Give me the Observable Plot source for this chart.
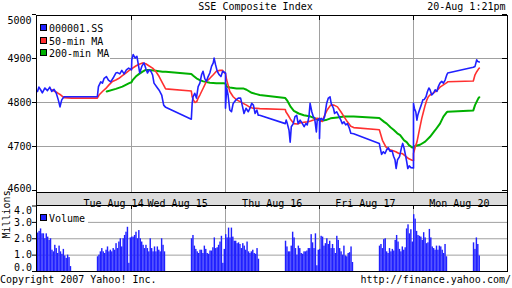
<!DOCTYPE html>
<html><head><meta charset="utf-8">
<script src="https://cdn.jsdelivr.net/npm/d3@7"></script>
<script src="https://cdn.jsdelivr.net/npm/@observablehq/plot@0.6"></script>
<style>
html,body{margin:0;padding:0;background:#fff;}
#wrap{position:relative;width:512px;height:288px;overflow:hidden;font-family:"DejaVu Sans Mono",monospace;font-size:10px;color:#000;}
.t{position:absolute;line-height:10px;white-space:pre;}
.abs{position:absolute;}
.sw{position:absolute;width:5px;height:5px;border:1px solid #000;}
</style></head><body><div id="wrap"></div>
<script>
// ---------- data ----------
const tradingDays = [14, 15, 16, 17, 20];
const dayLabels = ["Tue Aug 14", "Wed Aug 15", "Thu Aug 16", "Fri Aug 17", "Mon Aug 20"];
const dayLabelAt = ["14 13:57", "15 12:12", "16 12:14", "17 12:11", "20 12:11"];
const priceTicks = [4600, 4700, 4800, 4900, 5000];
const volumeTicks = [0, 1, 2, 3, 4];
const seriesNames = ["000001.SS", "50-min MA", "200-min MA"];
const seriesColors = ["#2020ff", "#ff3030", "#00b000"];

const price = [
["14 09:30",4825],["14 09:35",4835],["14 09:41",4829],["14 09:47",4822],["14 09:56",4833],["14 10:05",4827],["14 10:13",4835],["14 10:20",4825],["14 10:28",4830],["14 10:36",4821],["14 10:43",4806],["14 10:49",4790],["14 10:55",4806],["14 11:03",4813],["14 11:30",4813],["14 13:00",4813],["14 13:04",4836],["14 13:12",4847],["14 13:18",4844],["14 13:24",4855],["14 13:32",4859],["14 13:39",4851],["14 13:47",4847],["14 13:55",4855],["14 14:05",4867],["14 14:11",4868],["14 14:19",4865],["14 14:26",4873],["14 14:34",4865],["14 14:42",4874],["14 14:50",4878],["14 15:00",4874],
["15 09:31",4897],["15 09:36",4909],["15 09:43",4901],["15 09:49",4905],["15 09:54",4886],["15 09:59",4867],["15 10:06",4882],["15 10:14",4890],["15 10:20",4878],["15 10:26",4867],["15 10:32",4874],["15 10:38",4871],["15 10:44",4863],["15 10:49",4844],["15 10:58",4836],["15 11:07",4828],["15 11:16",4817],["15 11:23",4794],["15 11:30",4789],["15 13:00",4762],["15 13:03",4798],["15 13:06",4813],["15 13:12",4821],["15 13:18",4810],["15 13:24",4836],["15 13:30",4844],["15 13:36",4863],["15 13:41",4871],["15 13:47",4855],["15 13:53",4848],["15 13:59",4859],["15 14:05",4867],["15 14:11",4882],["15 14:17",4890],["15 14:20",4901],["15 14:25",4886],["15 14:31",4871],["15 14:38",4863],["15 14:44",4859],["15 14:50",4871],["15 15:00",4867],
["16 09:30",4787],["16 09:34",4833],["16 09:39",4817],["16 09:45",4783],["16 09:51",4779],["16 09:57",4798],["16 10:07",4806],["16 10:15",4810],["16 10:23",4810],["16 10:30",4790],["16 10:35",4775],["16 10:42",4787],["16 10:50",4779],["16 10:56",4787],["16 11:02",4798],["16 11:08",4794],["16 11:14",4775],["16 11:20",4783],["16 11:25",4771],["16 11:30",4771],["16 13:00",4752],["16 13:03",4760],["16 13:07",4752],["16 13:13",4737],["16 13:17",4710],["16 13:21",4745],["16 13:28",4752],["16 13:34",4768],["16 13:40",4771],["16 13:45",4752],["16 13:52",4760],["16 14:00",4752],["16 14:06",4745],["16 14:12",4752],["16 14:17",4749],["16 14:23",4768],["16 14:27",4798],["16 14:33",4779],["16 14:38",4768],["16 14:43",4764],["16 14:49",4733],["16 14:52",4760],["16 15:00",4764],
["17 09:30",4718],["17 09:32",4760],["17 09:36",4764],["17 09:43",4760],["17 09:48",4768],["17 09:55",4798],["17 10:01",4810],["17 10:07",4813],["17 10:11",4798],["17 10:19",4787],["17 10:23",4775],["17 10:30",4779],["17 10:39",4768],["17 10:45",4760],["17 10:50",4752],["17 10:56",4756],["17 11:02",4749],["17 11:08",4752],["17 11:14",4743],["17 11:20",4730],["17 11:30",4729],["17 13:00",4707],["17 13:02",4700],["17 13:08",4682],["17 13:14",4688],["17 13:20",4684],["17 13:26",4693],["17 13:32",4697],["17 13:38",4689],["17 13:45",4690],["17 13:50",4678],["17 13:55",4670],["17 13:59",4650],["17 14:04",4670],["17 14:11",4677],["17 14:18",4698],["17 14:22",4707],["17 14:27",4696],["17 14:32",4680],["17 14:36",4666],["17 14:40",4650],["17 14:45",4656],["17 14:51",4652],["17 15:00",4651],
["20 09:30",4798],["20 09:33",4787],["20 09:38",4779],["20 09:42",4760],["20 09:45",4771],["20 09:51",4783],["20 09:57",4794],["20 10:03",4806],["20 10:08",4807],["20 10:14",4813],["20 10:19",4825],["20 10:24",4833],["20 10:28",4829],["20 10:34",4817],["20 10:40",4821],["20 10:46",4829],["20 10:52",4825],["20 10:57",4836],["20 11:03",4844],["20 11:09",4848],["20 11:15",4844],["20 11:21",4851],["20 11:27",4863],["20 11:30",4867],["20 13:00",4880],["20 13:06",4882],["20 13:12",4897],["20 13:16",4893],["20 13:21",4892]
];

const ma50 = [
["14 10:20",4829],["14 10:40",4822],["14 10:52",4817],["14 11:03",4811],["14 11:30",4810],["14 13:00",4810],["14 13:06",4817],["14 13:18",4825],["14 13:30",4832],["14 13:41",4840],["14 13:53",4848],["14 14:05",4851],["14 14:16",4855],["14 14:28",4861],["14 14:40",4867],["14 14:52",4873],["14 15:00",4876],
["15 09:34",4878],["15 09:45",4883],["15 09:57",4887],["15 10:09",4890],["15 10:20",4888],["15 10:32",4883],["15 10:44",4878],["15 10:55",4871],["15 11:07",4859],["15 11:19",4844],["15 11:28",4833],["15 11:30",4831],["15 13:00",4826],["15 13:03",4813],["15 13:07",4806],["15 13:13",4800],["15 13:19",4802],["15 13:24",4810],["15 13:30",4817],["15 13:42",4833],["15 13:53",4848],["15 14:05",4855],["15 14:17",4863],["15 14:28",4871],["15 14:40",4873],["15 14:50",4873],["15 14:55",4868],["15 15:00",4866],
["16 09:34",4851],["16 09:39",4840],["16 09:45",4825],["16 09:57",4813],["16 10:09",4806],["16 10:21",4802],["16 10:32",4798],["16 10:44",4794],["16 10:56",4789],["16 11:07",4787],["16 11:19",4787],["16 11:30",4786],["16 13:00",4784],["16 13:02",4779],["16 13:10",4771],["16 13:18",4762],["16 13:30",4752],["16 13:42",4751],["16 13:54",4754],["16 14:05",4755],["16 14:17",4756],["16 14:29",4758],["16 14:41",4761],["16 14:52",4764],["16 15:00",4763],
["17 09:34",4758],["17 09:40",4757],["17 09:46",4768],["17 09:57",4783],["17 10:09",4794],["17 10:21",4794],["17 10:33",4790],["17 10:45",4779],["17 10:56",4768],["17 11:08",4756],["17 11:20",4746],["17 11:30",4743],["17 13:00",4738],["17 13:11",4714],["17 13:23",4699],["17 13:34",4693],["17 13:46",4691],["17 13:58",4688],["17 14:09",4684],["17 14:21",4684],["17 14:32",4678],["17 14:44",4672],["17 14:55",4669],["17 15:00",4668],
["20 09:30",4684],["20 09:36",4699],["20 09:42",4710],["20 09:47",4726],["20 09:53",4745],["20 09:59",4764],["20 10:05",4779],["20 10:11",4794],["20 10:17",4806],["20 10:22",4813],["20 10:28",4817],["20 10:40",4822],["20 10:52",4827],["20 11:03",4835],["20 11:15",4840],["20 11:27",4845],["20 11:30",4847],["20 13:00",4849],["20 13:06",4863],["20 13:12",4870],["20 13:18",4876],["20 13:21",4878]
];

const ma200 = [
["14 13:33",4825],["14 14:05",4831],["14 14:28",4836],["14 14:52",4844],["14 15:00",4846],
["15 09:34",4851],["15 09:45",4859],["15 09:57",4865],["15 10:09",4870],["15 10:20",4874],["15 10:32",4874],["15 10:55",4872],["15 11:19",4870],["15 11:30",4870],["15 13:00",4865],["15 13:07",4861],["15 13:18",4855],["15 13:30",4851],["15 13:42",4848],["15 14:05",4845],["15 14:28",4844],["15 14:52",4844],["15 15:00",4843],
["16 09:34",4836],["16 09:45",4834],["16 10:09",4832],["16 10:32",4832],["16 10:44",4829],["16 11:02",4822],["16 11:19",4819],["16 11:30",4817],["16 13:00",4810],["16 13:08",4803],["16 13:19",4790],["16 13:30",4781],["16 13:47",4775],["16 14:05",4771],["16 14:29",4768],["16 14:52",4762],["16 15:00",4760],
["17 09:34",4758],["17 09:52",4760],["17 10:09",4764],["17 10:33",4766],["17 10:56",4768],["17 11:20",4768],["17 11:30",4768],["17 13:00",4765],["17 13:17",4756],["17 13:26",4752],["17 13:40",4743],["17 13:50",4738],["17 14:03",4730],["17 14:13",4726],["17 14:27",4714],["17 14:36",4710],["17 14:44",4703],["17 14:55",4698],["17 15:00",4698],
["20 09:36",4701],["20 09:53",4704],["20 10:11",4711],["20 10:28",4722],["20 10:46",4737],["20 11:03",4752],["20 11:15",4768],["20 11:27",4778],["20 11:30",4779],["20 13:00",4782],["20 13:06",4794],["20 13:18",4810],["20 13:21",4812]
];

// volume in millions, 5-minute bars: 24 morning bars then afternoon bars
const vol14 = [2.35,2.45,2.6,2.3,2.3,2.0,2.3,2.1,1.9,2.0,1.3,1.2,1.6,1.4,1.1,1.55,1.2,1.05,1.35,0.95,0.8,1.0,0.85,0.3,
               0.9,1.0,1.2,1.4,1.2,1.1,1.3,1.5,1.2,1.3,1.2,1.4,1.3,1.7,1.4,1.8,2.0,1.5,2.0,2.2,2.4,2.7,0.5,2.05];
const vol15 = [2.1,2.1,2.2,2.4,2.0,2.5,2.0,1.8,1.6,1.4,1.6,1.4,1.2,2.0,1.4,1.2,1.5,1.2,1.5,1.3,1.2,2.0,1.6,1.2,
               2.0,2.2,1.55,1.35,1.2,1.1,1.3,1.3,1.1,1.55,1.35,1.1,1.05,1.25,1.25,1.45,2.05,1.4,1.45,1.6,1.8,2.15,0.5,1.35];
const vol16 = [2.25,2.05,2.65,2.05,2.65,2.1,1.85,1.85,1.7,1.75,1.65,1.4,1.7,1.55,1.3,1.8,1.2,1.1,1.2,1.3,1.1,1.05,1.4,0.75,
               1.85,1.5,1.2,1.2,1.55,2.4,2.05,1.4,1.0,1.55,1.4,1.1,1.05,1.2,1.2,1.25,1.4,1.4,2.25,1.75,1.4,2.3,0.35,1.3];
const vol17 = [1.35,2.15,2.1,1.55,1.7,2.0,1.65,1.85,1.4,1.65,1.4,1.1,2.15,1.9,1.4,1.2,1.0,1.55,0.95,0.9,1.1,1.15,1.5,0.55,
               1.55,1.65,1.4,1.95,2.0,1.2,1.1,1.4,1.2,1.35,1.25,1.9,2.2,1.8,1.35,1.2,1.5,1.3,1.45,2.6,2.85,2.3,2.55,1.8];
const vol20 = [3.47,3.2,2.45,2.2,2.15,2.1,1.9,2.37,2.05,1.7,1.75,2.57,2.05,1.5,1.4,1.3,1.55,1.3,1.55,1.5,1.3,1.1,1.65,0.9,
               1.75,1.35,2.05,1.65,0.95];

// ---------- helpers ----------
const DAY = 330; // 09:30-15:00 on the axis, lunch break kept as a gap in time
function toMin(s) {
  const [d, hm] = s.split(" ");
  const [h, m] = hm.split(":").map(Number);
  return tradingDays.indexOf(+d) * DAY + h * 60 + m - 570;
}
const pts = arr => arr.map(([s, v]) => ({t: toMin(s), v}));
const dayStarts = tradingDays.slice(1).map((d, i) => (i + 1) * DAY);
const bars = [vol14, vol15, vol16, vol17, vol20].flatMap((arr, d) =>
  arr.map((v, i) => ({t: d * DAY + (i < 24 ? i * 5 : 210 + (i - 24) * 5), v})));

const font = '"DejaVu Sans Mono", monospace';
const xScale = {domain: [0, 5 * DAY], range: [37, 507], axis: null, label: null};
const grid = "#a0a0a0";

const wrap = document.getElementById("wrap");

// date band
const band = document.createElement("div");
band.className = "abs";
Object.assign(band.style, {left: "36px", top: "192px", width: "472px", height: "14px",
  border: "1px solid #000", boxSizing: "border-box", background: "#dcdcdc"});
wrap.appendChild(band);

// ---------- main price chart ----------
const main = Plot.plot({
  width: 512, height: 193,
  marginLeft: 36, marginRight: 5, marginTop: 15, marginBottom: 1,
  style: {fontFamily: font, fontSize: "10px", background: "transparent", color: "#000"},
  x: xScale,
  y: {domain: [4600, 5000], range: [190, 14], axis: null, label: null},
  marks: [
    Plot.ruleY(priceTicks.slice(1, -1), {y: d => d, stroke: grid}),
    Plot.ruleX(dayStarts, {x: d => d, stroke: grid}),
    Plot.line(pts(ma200), {x: "t", y: "v", stroke: seriesColors[2], strokeWidth: 2}),
    Plot.line(pts(ma50), {x: "t", y: "v", stroke: seriesColors[1], strokeWidth: 1.6}),
    Plot.line(pts(price), {x: "t", y: "v", stroke: seriesColors[0], strokeWidth: 1.6}),
    Plot.ruleX(dayStarts, {x: d => d, stroke: "#000", insetBottom: 172}),
    Plot.ruleY(priceTicks, {y: d => d, stroke: "#000", insetLeft: 466}),
    Plot.axisY({ticks: priceTicks, tickSize: 4, tickFormat: () => "", label: null}),
    Plot.text(priceTicks.slice(1, -1), {y: d => d, text: d => String(d), frameAnchor: "left", dx: -5, textAnchor: "end"}),
    Plot.text(priceTicks.slice(-1), {y: d => d, text: d => String(d), frameAnchor: "left", dx: -5, dy: 6, textAnchor: "end"}),
    Plot.text(priceTicks.slice(0, 1), {y: d => d, text: d => String(d), frameAnchor: "left", dx: -5, dy: -1.5, textAnchor: "end"}),
    Plot.frame({stroke: "#000"})
  ]
});
Object.assign(main.style, {position: "absolute", left: "0px", top: "0px"});
wrap.appendChild(main);

// ---------- volume chart ----------
const vol = Plot.plot({
  width: 512, height: 80,
  marginLeft: 36, marginRight: 5, marginTop: 13, marginBottom: 1,
  style: {fontFamily: font, fontSize: "10px", background: "transparent", color: "#000", overflow: "visible"},
  x: xScale,
  y: {domain: [0, 4], range: [79, 13.5], axis: null, label: null},
  marks: [
    Plot.ruleY(volumeTicks.slice(1, -1), {y: d => d, stroke: grid}),
    Plot.ruleX(dayStarts, {x: d => d, stroke: grid}),
    Plot.rect(bars, {x1: "t", x2: d => d.t + 5, y1: d => 0, y2: "v", fill: seriesColors[0]}),
    Plot.ruleX(dayStarts, {x: d => d, stroke: "#000", insetBottom: 62}),
    Plot.axisY({ticks: volumeTicks, tickSize: 4, tickFormat: () => "", label: null}),
    Plot.text(volumeTicks.slice(1, -1), {y: d => d, text: d => d.toFixed(1), frameAnchor: "left", dx: -4.5, textAnchor: "end"}),
    Plot.text(volumeTicks.slice(-1), {y: d => d, text: d => d.toFixed(1), frameAnchor: "left", dx: -4.5, dy: 4.6, textAnchor: "end"}),
    Plot.text(volumeTicks.slice(0, 1), {y: d => d, text: d => d.toFixed(1), frameAnchor: "left", dx: -4.5, dy: -3.5, textAnchor: "end"}),
    Plot.text(["Millions"], {text: d => d, frameAnchor: "left", rotate: -90, dx: -29.5}),
    Plot.text(dayLabels, {x: (d, i) => toMin(dayLabelAt[i]), text: d => d, frameAnchor: "top", dy: -5.7}),
    Plot.frame({stroke: "#000"})
  ]
});
Object.assign(vol.style, {position: "absolute", left: "0px", top: "192px"});
wrap.appendChild(vol);

// ---------- legends & captions ----------
function box(l, t, w, h, bg) {
  const e = document.createElement("div");
  e.className = "abs";
  Object.assign(e.style, {left: l + "px", top: t + "px", width: w + "px", height: h + "px", background: bg});
  wrap.appendChild(e);
}
function swatch(l, t, c) {
  const e = document.createElement("div");
  e.className = "sw";
  Object.assign(e.style, {left: l + "px", top: t + "px", background: c});
  wrap.appendChild(e);
}
function label(txt, l, t, w, align) {
  const e = document.createElement("div");
  e.className = "t";
  e.textContent = txt;
  Object.assign(e.style, {left: l + "px", top: t + "px"});
  if (w) { e.style.width = w + "px"; e.style.textAlign = align; }
  wrap.appendChild(e);
}
box(37, 16, 73, 44, "#fff");
const swTops = [24, 37, 49], txtTops = [24, 36.5, 49];
seriesNames.forEach((n, i) => { swatch(40, swTops[i], seriesColors[i]); label(n, 49, txtTops[i]); });
box(37, 206, 51, 18, "#fff");
swatch(40, 214, seriesColors[0]);
label("Volume", 49, 214);

label("SSE Composite Index", 0, 1.5, 511, "center");
label("20-Aug 1:21pm", 0, 1.5, 505.5, "right");
label("Copyright 2007 Yahoo! Inc.", 0, 275);
label("http://finance.yahoo.com/", 0, 275, 511, "right");
</script></body></html>
